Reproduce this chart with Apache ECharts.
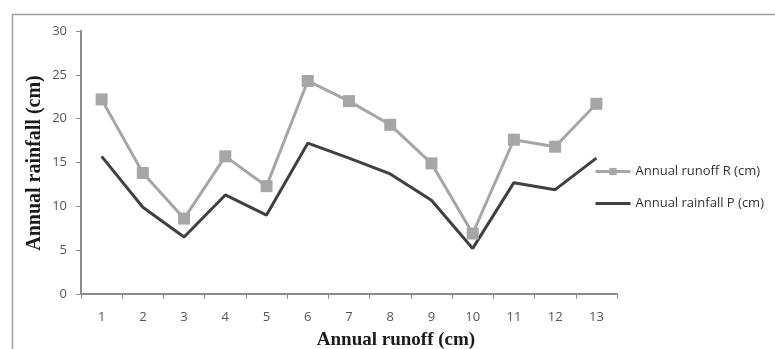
<!DOCTYPE html>
<html>
<head>
<meta charset="utf-8">
<script src="https://cdn.jsdelivr.net/npm/echarts@6/dist/echarts.min.js"></script>
<style>
  html, body { margin: 0; padding: 0; background: #fff; }
  #chart { width: 775px; height: 349px; }
</style>
</head>
<body>
<div id="chart"></div>
<script>
// Years 1..13 along the category axis
const categories = ['1','2','3','4','5','6','7','8','9','10','11','12','13'];
// Annual runoff R (cm)
const runoffR = [22.2, 13.8, 8.6, 15.7, 12.3, 24.3, 22.0, 19.3, 14.9, 6.9, 17.6, 16.8, 21.7];
// Annual rainfall P (cm)
const rainfallP = [15.7, 9.9, 6.5, 11.3, 9.0, 17.2, 15.5, 13.7, 10.7, 5.2, 12.7, 11.9, 15.5];
// Value axis ticks
const yTicks = [0, 5, 10, 15, 20, 25, 30];

const chart = echarts.init(document.getElementById('chart'), null, { renderer: 'canvas' });

const axisGrey = '#8c8c8c';
const labelColor = '#555';

chart.setOption({
  animation: false,
  backgroundColor: '#fff',
  grid: { left: 81, right: 158, top: 31, bottom: 55, containLabel: false },
  legend: {
    orient: 'vertical',
    left: 589,
    top: 160,
    itemWidth: 35,
    itemHeight: 9,
    itemGap: 19,
    textStyle: { fontFamily: 'Open Sans', fontSize: 13, color: '#333' },
    data: [
      { name: 'Annual runoff R (cm)', lineStyle: { width: 3 } },
      { name: 'Annual rainfall P (cm)', lineStyle: { width: 3 }, itemStyle: { color: 'rgba(0,0,0,0)', borderWidth: 0 } }
    ]
  },
  xAxis: {
    type: 'category',
    data: categories,
    boundaryGap: true,
    axisLine: { lineStyle: { color: axisGrey, width: 2 } },
    axisTick: { show: true, inside: false, length: 5, interval: 0, lineStyle: { color: axisGrey } },
    axisLabel: { margin: 17, fontFamily: 'Open Sans', fontSize: 13, color: labelColor }
  },
  yAxis: {
    type: 'value',
    min: yTicks[0],
    max: yTicks[yTicks.length - 1],
    interval: yTicks[1] - yTicks[0],
    splitLine: { show: false },
    axisLine: { show: true, lineStyle: { color: axisGrey, width: 2 } },
    axisTick: { show: true, length: 5, lineStyle: { color: axisGrey } },
    axisLabel: { margin: 14, fontFamily: 'Open Sans', fontSize: 13, color: labelColor }
  },
  series: [
    {
      name: 'Annual runoff R (cm)',
      type: 'line',
      data: runoffR,
      symbol: 'rect',
      symbolSize: 12,
      lineStyle: { color: '#a6a6a6', width: 3 },
      itemStyle: { color: '#a6a6a6' },
      z: 3
    },
    {
      name: 'Annual rainfall P (cm)',
      type: 'line',
      data: rainfallP,
      symbol: 'none',
      lineStyle: { color: '#404040', width: 3 },
      itemStyle: { color: '#404040' },
      z: 2
    }
  ],
  graphic: [
    {
      type: 'rect',
      shape: { x: 12.5, y: 14.5, width: 800, height: 400 },
      style: { fill: 'none', stroke: '#a0a0a0', lineWidth: 1.5 },
      silent: true,
      z: -1
    },
    {
      type: 'text',
      x: 396,
      y: 340,
      style: {
        text: 'Annual runoff (cm)',
        font: 'bold 19px "Liberation Serif"',
        fill: '#1a1a1a',
        align: 'center',
        verticalAlign: 'middle'
      }
    },
    {
      type: 'text',
      x: 35,
      y: 163,
      rotation: Math.PI / 2,
      style: {
        text: 'Annual rainfall (cm)',
        font: 'bold 20px "Liberation Serif"',
        fill: '#1a1a1a',
        align: 'center',
        verticalAlign: 'middle'
      }
    }
  ]
});
</script>
</body>
</html>
